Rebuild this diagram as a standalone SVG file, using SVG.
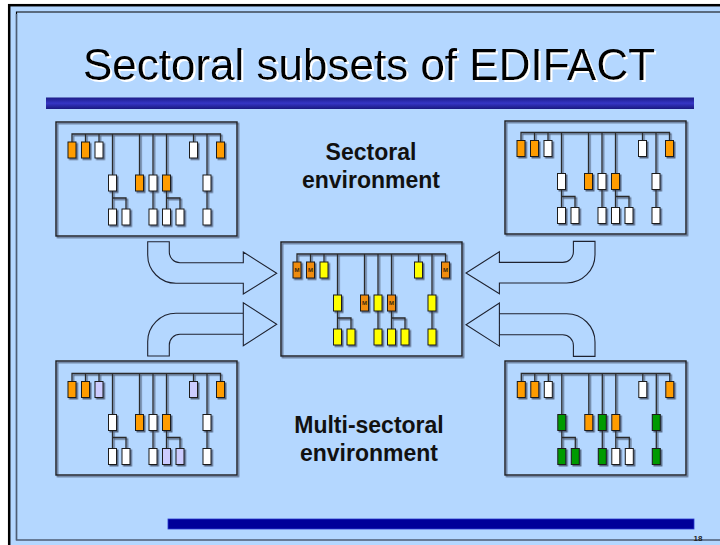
<svg xmlns="http://www.w3.org/2000/svg" width="720" height="545" viewBox="0 0 720 545">
<style>
.ln{stroke:#2a2a2a;stroke-width:1.3;fill:none}
.bx{stroke:#1a1a1a;stroke-width:1}
.frame{fill:none;stroke:#1e1e1e;stroke-width:1.4}
.o{fill:#ff9c00}.w{fill:#ffffff}.y{fill:#ffff00}.m{fill:#f08c10}.p{fill:#ccccff}.g{fill:#009a00}
.arrow{fill:#b4d7ff;stroke:#1e2230;stroke-width:1.1;stroke-linejoin:miter}
.lbl{font-family:"Liberation Sans",Arial,sans-serif;font-weight:bold;font-size:23px;fill:#111;text-anchor:middle}
.mt{font-family:"Liberation Sans",Arial,sans-serif;font-weight:bold;font-size:6px;fill:#3a2a10;text-anchor:middle}
</style>
<defs>
<linearGradient id="bar" x1="0" y1="0" x2="0" y2="1">
<stop offset="0" stop-color="#1c1c88"/>
<stop offset="0.5" stop-color="#3636c4"/>
<stop offset="1" stop-color="#1a1a80"/>
</linearGradient>
<filter id="sh" x="-10%" y="-10%" width="120%" height="120%">
<feDropShadow dx="1.5" dy="1.5" stdDeviation="0.4" flood-color="#46566e" flood-opacity="0.85"/>
</filter>
<filter id="tsh" x="-5%" y="-20%" width="110%" height="140%">
<feDropShadow dx="2" dy="2" stdDeviation="0" flood-color="#ffffff" flood-opacity="1"/>
</filter>
<g id="lines">
<path class="ln" d="M16,20V12H164.5V20M29.5,12V20M43,12V20M137.5,12V20M56.5,12V53M83.5,12V53M97,12V53M110.5,12V53M151,12V53M56.5,69V87M56.5,76H70V87M97,69V87M110.5,69V87M110.5,76H124V87M151,69V87"/>
</g>
</defs>
<rect x="0" y="0" width="720" height="545" fill="#ffffff"/>
<rect x="9.2" y="5.2" width="720" height="545" fill="#b4d7ff" stroke="#000" stroke-width="2.5"/>
<path d="M16.5,540V12H720" fill="none" stroke="#000" stroke-width="1.2"/>
<path d="M16.5,14V540H720" fill="none" stroke="#4e5e76" stroke-width="1.4"/>

<g id="title">
<text x="369" y="80" font-family="'Liberation Sans',Arial,sans-serif" font-size="44" fill="#000000" text-anchor="middle" filter="url(#tsh)">Sectoral subsets of EDIFACT</text>
<rect x="46" y="97.5" width="648" height="11.5" fill="url(#bar)"/>
</g>

<g id="box-top-left" transform="translate(56,122)">
<rect class="frame" x="0" y="0" width="181" height="114" filter="url(#sh)"/>
<g filter="url(#sh)">
<use href="#lines"/>
<rect class="bx o" x="12" y="20" width="8" height="16"/><rect class="bx o" x="25.5" y="20" width="8" height="16"/><rect class="bx w" x="39" y="20" width="8" height="16"/><rect class="bx w" x="133.5" y="20" width="8" height="16"/><rect class="bx o" x="160.5" y="20" width="8" height="16"/>
<rect class="bx w" x="52.5" y="53" width="8" height="16"/><rect class="bx o" x="79.5" y="53" width="8" height="16"/><rect class="bx w" x="93" y="53" width="8" height="16"/><rect class="bx o" x="106.5" y="53" width="8" height="16"/><rect class="bx w" x="147" y="53" width="8" height="16"/>
<rect class="bx w" x="52.5" y="87" width="8" height="16"/><rect class="bx w" x="66" y="87" width="8" height="16"/><rect class="bx w" x="93" y="87" width="8" height="16"/><rect class="bx w" x="106.5" y="87" width="8" height="16"/><rect class="bx w" x="120" y="87" width="8" height="16"/><rect class="bx w" x="147" y="87" width="8" height="16"/>
</g>
</g>

<g id="box-top-right" transform="translate(505,121)">
<rect class="frame" x="0" y="0" width="181" height="113" filter="url(#sh)"/>
<g filter="url(#sh)" transform="translate(0,-0.5)">
<use href="#lines"/>
<rect class="bx o" x="12" y="20" width="8" height="16"/><rect class="bx o" x="25.5" y="20" width="8" height="16"/><rect class="bx w" x="39" y="20" width="8" height="16"/><rect class="bx w" x="133.5" y="20" width="8" height="16"/><rect class="bx o" x="160.5" y="20" width="8" height="16"/>
<rect class="bx w" x="52.5" y="53" width="8" height="16"/><rect class="bx o" x="79.5" y="53" width="8" height="16"/><rect class="bx w" x="93" y="53" width="8" height="16"/><rect class="bx o" x="106.5" y="53" width="8" height="16"/><rect class="bx w" x="147" y="53" width="8" height="16"/>
<rect class="bx w" x="52.5" y="87" width="8" height="16"/><rect class="bx w" x="66" y="87" width="8" height="16"/><rect class="bx w" x="93" y="87" width="8" height="16"/><rect class="bx w" x="106.5" y="87" width="8" height="16"/><rect class="bx w" x="120" y="87" width="8" height="16"/><rect class="bx w" x="147" y="87" width="8" height="16"/>
</g>
</g>

<g id="box-center" transform="translate(281,242)">
<rect class="frame" x="0" y="0" width="181" height="114" filter="url(#sh)"/>
<g filter="url(#sh)">
<use href="#lines"/>
<rect class="bx m" x="12" y="20" width="8" height="16"/><rect class="bx m" x="25.5" y="20" width="8" height="16"/><rect class="bx y" x="39" y="20" width="8" height="16"/><rect class="bx y" x="133.5" y="20" width="8" height="16"/><rect class="bx m" x="160.5" y="20" width="8" height="16"/>
<rect class="bx y" x="52.5" y="53" width="8" height="16"/><rect class="bx m" x="79.5" y="53" width="8" height="16"/><rect class="bx y" x="93" y="53" width="8" height="16"/><rect class="bx m" x="106.5" y="53" width="8" height="16"/><rect class="bx y" x="147" y="53" width="8" height="16"/>
<rect class="bx y" x="52.5" y="87" width="8" height="16"/><rect class="bx y" x="66" y="87" width="8" height="16"/><rect class="bx y" x="93" y="87" width="8" height="16"/><rect class="bx y" x="106.5" y="87" width="8" height="16"/><rect class="bx y" x="120" y="87" width="8" height="16"/><rect class="bx y" x="147" y="87" width="8" height="16"/>
</g>
<text class="mt" x="16" y="30">M</text><text class="mt" x="29.5" y="30">M</text><text class="mt" x="164.5" y="30">M</text>
<text class="mt" x="83.5" y="63">M</text><text class="mt" x="110.5" y="63">M</text>
</g>

<g id="box-bottom-left" transform="translate(56,361)">
<rect class="frame" x="0" y="0" width="181" height="114" filter="url(#sh)"/>
<g filter="url(#sh)" transform="translate(0,0.5)">
<use href="#lines"/>
<rect class="bx o" x="12" y="20" width="8" height="16"/><rect class="bx o" x="25.5" y="20" width="8" height="16"/><rect class="bx p" x="39" y="20" width="8" height="16"/><rect class="bx p" x="133.5" y="20" width="8" height="16"/><rect class="bx o" x="160.5" y="20" width="8" height="16"/>
<rect class="bx w" x="52.5" y="53" width="8" height="16"/><rect class="bx o" x="79.5" y="53" width="8" height="16"/><rect class="bx w" x="93" y="53" width="8" height="16"/><rect class="bx o" x="106.5" y="53" width="8" height="16"/><rect class="bx w" x="147" y="53" width="8" height="16"/>
<rect class="bx w" x="52.5" y="87" width="8" height="16"/><rect class="bx w" x="66" y="87" width="8" height="16"/><rect class="bx w" x="93" y="87" width="8" height="16"/><rect class="bx p" x="106.5" y="87" width="8" height="16"/><rect class="bx p" x="120" y="87" width="8" height="16"/><rect class="bx w" x="147" y="87" width="8" height="16"/>
</g>
</g>

<g id="box-bottom-right" transform="translate(505,361)">
<rect class="frame" x="0" y="0" width="181" height="114" filter="url(#sh)"/>
<g filter="url(#sh)" transform="translate(0.3,0.5)">
<use href="#lines"/>
<rect class="bx o" x="12" y="20" width="8" height="16"/><rect class="bx o" x="25.5" y="20" width="8" height="16"/><rect class="bx w" x="39" y="20" width="8" height="16"/><rect class="bx w" x="133.5" y="20" width="8" height="16"/><rect class="bx o" x="160.5" y="20" width="8" height="16"/>
<rect class="bx g" x="52.5" y="53" width="8" height="16"/><rect class="bx o" x="79.5" y="53" width="8" height="16"/><rect class="bx g" x="93" y="53" width="8" height="16"/><rect class="bx o" x="106.5" y="53" width="8" height="16"/><rect class="bx g" x="147" y="53" width="8" height="16"/>
<rect class="bx g" x="52.5" y="87" width="8" height="16"/><rect class="bx g" x="66" y="87" width="8" height="16"/><rect class="bx g" x="93" y="87" width="8" height="16"/><rect class="bx w" x="106.5" y="87" width="8" height="16"/><rect class="bx w" x="120" y="87" width="8" height="16"/><rect class="bx g" x="147" y="87" width="8" height="16"/>
</g>
</g>

<g id="connectors">
<path id="arrow-upper-left" class="arrow" d="M147.7,241.7H169.3V252A10.7,10.7 0 0 0 180,262.7H243.3V252L276.7,273.3L243.3,294V283.3H176A28.3,28.3 0 0 1 147.7,255Z"/>
<path id="arrow-lower-left" class="arrow" d="M147.7,356H169.3V345A10.7,10.7 0 0 1 180,334.3H243.3V302.7L276.7,324.3L243.3,345.7V313.3H176A28.3,28.3 0 0 0 147.7,341.6Z"/>
<g transform="translate(742.7,-0.3) scale(-1,1)">
<path id="arrow-upper-right" class="arrow" d="M147.7,241.7H169.3V252A10.7,10.7 0 0 0 180,262.7H243.3V252L276.7,273.3L243.3,294V283.3H176A28.3,28.3 0 0 1 147.7,255Z"/>
</g>
<g transform="translate(742.7,0.4) scale(-1,1)">
<path id="arrow-lower-right" class="arrow" d="M147.7,356H169.3V345A10.7,10.7 0 0 1 180,334.3H243.3V302.7L276.7,324.3L243.3,345.7V313.3H176A28.3,28.3 0 0 0 147.7,341.6Z"/>
</g>
</g>

<g id="label-sectoral">
<text class="lbl" x="371" y="160">Sectoral</text>
<text class="lbl" x="371" y="188">environment</text>
</g>
<g id="label-multi">
<text class="lbl" x="369" y="433">Multi-sectoral</text>
<text class="lbl" x="369" y="461">environment</text>
</g>

<g id="footer">
<rect x="168" y="519" width="526" height="10" fill="#000099" stroke="#2a3ad0" stroke-width="0.8"/>
<text x="698" y="541" font-family="'Liberation Sans',Arial,sans-serif" font-weight="bold" font-size="8" fill="#222" text-anchor="middle">18</text>
</g>
</svg>
